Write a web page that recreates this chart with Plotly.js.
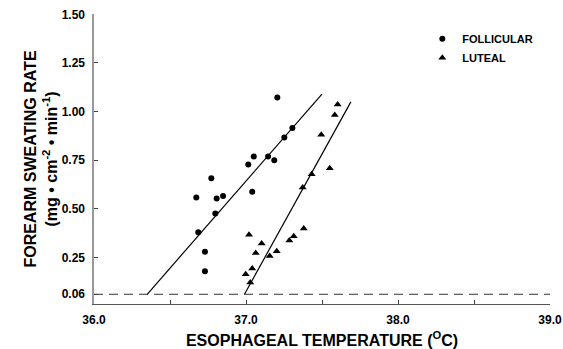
<!DOCTYPE html>
<html>
<head>
<meta charset="utf-8">
<script src="https://cdn.plot.ly/plotly-3.0.1.min.js"></script>
<style>html,body{margin:0;padding:0;background:#fff;}#chart{width:563px;height:349px;}</style>
</head>
<body>
<div id="chart"></div>
<script>
// Follicular phase data (esophageal temperature °C, forearm sweating rate mg·cm-2·min-1)
const follX = [37.206, 37.305, 37.252, 37.051, 37.145, 37.186, 37.015, 36.772, 37.041, 36.673, 36.807, 36.849, 36.798, 36.686, 36.730, 36.730];
const follY = [1.073, 0.915, 0.867, 0.769, 0.769, 0.750, 0.728, 0.657, 0.588, 0.558, 0.553, 0.565, 0.476, 0.379, 0.279, 0.179];
// Luteal phase data
const lutX = [37.603, 37.584, 37.495, 37.551, 37.432, 37.373, 37.380, 37.314, 37.285, 37.020, 37.103, 37.064, 37.202, 37.156, 37.041, 36.998, 37.028];
const lutY = [1.037, 0.983, 0.881, 0.708, 0.677, 0.609, 0.399, 0.359, 0.337, 0.366, 0.321, 0.272, 0.281, 0.257, 0.192, 0.163, 0.121];
// Regression lines (end points)
const follLineX = [36.35, 37.50];
const follLineY = [0.06, 1.09];
const lutLineX = [36.99, 37.69];
const lutLineY = [0.06, 1.05];
// Threshold reference line
const threshX = [36.0, 39.0];
const threshY = [0.06, 0.06];
// Tick labels
const xTickVals = [36.0, 37.0, 38.0, 39.0];
const xTickText = ["36.0", "37.0", "38.0", "39.0"];
const xMinorVals = [36.5, 37.5, 38.5];
const yTickVals = [0.06, 0.25, 0.50, 0.75, 1.00, 1.25, 1.50];
const yTickText = ["0.06", "0.25", "0.50", "0.75", "1.00", "1.25", "1.50"];

const traces = [
  {x: threshX, y: threshY, mode: 'lines', showlegend: false, hoverinfo: 'skip',
   line: {color: '#333', width: 1, dash: '9px,6px'}},
  {x: follLineX, y: follLineY, mode: 'lines', showlegend: false,
   line: {color: '#000', width: 1.2}},
  {x: lutLineX, y: lutLineY, mode: 'lines', showlegend: false,
   line: {color: '#000', width: 1.2}},
  {x: follX, y: follY, mode: 'markers', name: 'FOLLICULAR',
   marker: {symbol: 'circle', size: 6, color: '#000'}},
  {x: lutX, y: lutY, mode: 'markers', name: 'LUTEAL',
   marker: {symbol: 'triangle-up', size: 7, color: '#000'}}
];

const layout = {
  width: 563, height: 349,
  margin: {l: 94, r: 13, t: 14, b: 45, pad: 0},
  paper_bgcolor: '#fff', plot_bgcolor: '#fff',
  font: {family: '"Liberation Sans", Arial, sans-serif', size: 12, color: '#000', weight: 700},
  showlegend: true,
  legend: {x: 0.72, y: 0.965, xanchor: 'left', yanchor: 'top', bgcolor: 'rgba(0,0,0,0)',
           font: {size: 11, weight: 700}, itemwidth: 30, tracegroupgap: 0},
  xaxis: {
    range: [36.0, 39.0], tickmode: 'array', tickvals: xTickVals, ticktext: xTickText,
    ticks: 'inside', ticklen: 4, tickcolor: '#444', tickwidth: 1,
    minor: {tickmode: 'array', tickvals: xMinorVals, ticks: 'inside', ticklen: 4, tickcolor: '#444', tickwidth: 1, showgrid: false},
    showline: true, linecolor: '#555', linewidth: 1, mirror: false,
    showgrid: false, zeroline: false, ticklabelstandoff: 5,
    tickfont: {size: 12, weight: 700},
    title: {text: 'ESOPHAGEAL TEMPERATURE (<sup>O</sup>C)', font: {size: 16, weight: 700}, standoff: 9}
  },
  yaxis: {
    range: [0.01, 1.502], tickmode: 'array', tickvals: yTickVals, ticktext: yTickText,
    ticks: 'inside', ticklen: 4, tickcolor: '#444', tickwidth: 1,
    showline: true, linecolor: '#999', linewidth: 1.6,
    showgrid: false, zeroline: false, ticklabelstandoff: 5,
    tickfont: {size: 12, weight: 700},
    title: {text: 'FOREARM SWEATING RATE<br>(mg • cm<sup>-2</sup> • min<sup>-1</sup>)', font: {size: 16, weight: 700}, standoff: 0}
  }
};

Plotly.newPlot('chart', traces, layout, {displayModeBar: false, staticPlot: true});
</script>
</body>
</html>
